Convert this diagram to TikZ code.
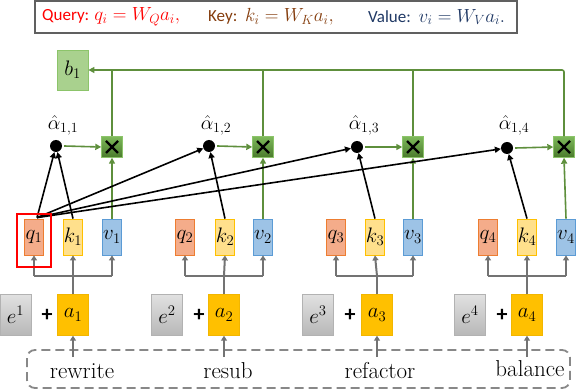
\RequirePackage{fix-cm}
\documentclass[tikz,border=0pt]{standalone}
\usepackage{fontspec}
\newfontfamily\hdrfont{Carlito}
\usetikzlibrary{arrows.meta,calc}
\definecolor{qfill}{HTML}{F4AC8A}
\definecolor{qdraw}{HTML}{ED7D31}
\definecolor{kfill}{HTML}{FFE08C}
\definecolor{kdraw}{HTML}{FFC000}
\definecolor{vfill}{HTML}{9DC3E6}
\definecolor{vdraw}{HTML}{5B9BD5}
\definecolor{afill}{HTML}{FFC000}
\definecolor{adraw}{HTML}{F2B600}
\definecolor{bfill}{HTML}{A9D18E}
\definecolor{bdraw}{HTML}{8CC46A}
\definecolor{gline}{HTML}{5E8F3C}
\definecolor{mtop}{HTML}{7DB95A}
\definecolor{mbot}{HTML}{4A7A2C}
\definecolor{grayline}{HTML}{737373}
\definecolor{keycol}{HTML}{843C0C}
\definecolor{valcol}{HTML}{1F3864}
\definecolor{hdrborder}{HTML}{606060}
\tikzset{
  mathtxt/.style={font=\fontsize{21}{24}\selectfont},
  vecbox/.style={minimum width=19pt,minimum height=36pt,inner sep=0pt,line width=0.8pt,mathtxt},
  qbox/.style={vecbox,fill=qfill,draw=qdraw},
  kbox/.style={vecbox,fill=kfill,draw=kdraw},
  vbox/.style={vecbox,fill=vfill,draw=vdraw},
  ebox/.style={minimum width=31pt,minimum height=41pt,inner sep=0pt,draw=black!30,top color=black!12,bottom color=black!28,mathtxt},
  abox/.style={minimum width=31pt,minimum height=41pt,inner sep=0pt,draw=adraw,fill=afill,mathtxt},
  mulbox/.style={minimum width=21pt,minimum height=21pt,inner sep=0pt,draw=bdraw,top color=mtop,bottom color=mbot},
  dotnode/.style={circle,fill=black,minimum size=12pt,inner sep=0pt},
  glink/.style={draw=gline,line width=1.6pt,-{Triangle[length=6pt,width=6pt]}},
  gplain/.style={draw=gline,line width=1.6pt},
  blink/.style={draw=black,line width=1.6pt,-{Triangle[length=6pt,width=6pt]}},
  graylink/.style={draw=grayline,line width=2pt,-{Triangle[length=5pt,width=6pt]}},
  grayplain/.style={draw=grayline,line width=2pt},
  plus/.style={font=\hdrfont\fontsize{22}{22}\selectfont\bfseries},
  optxt/.style={font=\fontsize{23}{26}\selectfont},
  alabel/.style={font=\fontsize{20}{22}\selectfont,inner sep=1pt},
  hdrtxt/.style={anchor=west,inner sep=0pt,font=\hdrfont\fontsize{17}{20}\selectfont}
}
\newcommand{\hdrmath}[1]{{\fontsize{19}{20}\selectfont$#1$}}
\begin{document}
\begin{tikzpicture}[x=1pt,y=-1pt]
\useasboundingbox (0,0) rectangle (576,390);
% header
\node[draw=hdrborder,line width=2.5pt,minimum width=482pt,minimum height=32pt,inner sep=0pt] (hdr) at (276,17) {};
\node[hdrtxt,red] (hq) at (42,17) {Query: \hdrmath{q_i = W_Q a_i,}};
\node[hdrtxt,keycol] (hk) at (208,17) {Key:\ \ \hdrmath{k_i = W_K a_i,}};
\node[hdrtxt,valcol] (hv) at (368,17) {Value:\ \ \hdrmath{v_i = W_V a_i.}};
% b1
\node[minimum width=31pt,minimum height=40pt,inner sep=0pt,fill=bfill,draw=bdraw,line width=0.8pt,mathtxt] (b1) at (72.5,70) {$b_1$};
% q k v
\foreach \i/\qx/\kx/\vx in {1/34/73/112, 2/185/225/263, 3/336/375/413, 4/488/527/566}{
  \node[qbox] (q\i) at (\qx,237) {$q_{\i}$};
  \node[kbox] (k\i) at (\kx,237) {$k_{\i}$};
  \node[vbox] (v\i) at (\vx,237) {$v_{\i}$};
}
% e, a
\foreach \i/\ex/\px/\ax in {1/15.5/47/73, 2/167/199/224, 3/318/350/377, 4/470/502/527}{
  \node[ebox] (e\i) at (\ex,315) {$e^{\i}$};
  \node[plus] (p\i) at (\px,315) {+};
  \node[abox] (a\i) at (\ax,315) {$a_{\i}$};
}
% multiply boxes and dots
\foreach \i/\mx/\dx/\dy in {1/112/56/146, 2/263/209/146, 3/413/357/147, 4/564/507/148}{
  \node[mulbox] (m\i) at (\mx,147) {};
  \draw[black,line width=2.4pt] ($(m\i.center)+(-6,-6)$) -- ($(m\i.center)+(6,6)$)
        ($(m\i.center)+(-6,6)$) -- ($(m\i.center)+(6,-6)$);
  \node[dotnode] (d\i) at (\dx,\dy) {};
  \node[alabel,anchor=south] (al\i) at (\dx+7,136) {$\hat\alpha_{1,\i}$};
}
% dashed op box
\draw[grayline!85,line width=1.8pt,dash pattern=on 9pt off 5pt,rounded corners=8pt] (27,350) rectangle (570,388);
\node[optxt] (o1) at (82,371) {rewrite};
\node[optxt] (o2) at (228,371) {resub};
\node[optxt] (o3) at (380,371) {refactor};
\node[optxt] (o4) at (530,369) {balance};
% arrows op -> a, a -> q k v
\foreach \i in {1,...,4}{
  \coordinate (s\i) at (a\i.south |- 0,357);
  \draw[graylink] (s\i) -- (a\i.south);
  \coordinate (j\i) at (a\i.north |- 0,276);
  \draw[grayplain] (a\i.north) -- (j\i);
  \draw[grayplain] (q\i.south |- j\i) -- (v\i.south |- j\i);
  \draw[graylink] (q\i.south |- j\i) -- (q\i.south);
  \draw[graylink] (j\i) -- (k\i.south);
  \draw[graylink] (v\i.south |- j\i) -- (v\i.south);
  % green
  \draw[glink] (v\i.north) -- (m\i.south);
  \draw[glink] ($(d\i.east)+(2,0)$) -- (m\i.west);
  % black k -> dot
  \draw[blink] (k\i.north) -- (d\i);
}
% q1 -> dots
\coordinate (qt) at ($(q1.north)+(3,-1)$);
\foreach \i in {1,...,4}{
  \draw[blink] (qt) -- (d\i);
}
% green top bus
\draw[glink,rounded corners=2pt] (m4.north) |- (b1.east);
\foreach \i in {1,2,3}{
  \draw[gplain] (m\i.north) -- (m\i.north |- b1.east);
}
% red highlight
\draw[red,line width=2.2pt] (17,214) rectangle (51,267);
\end{tikzpicture}
\end{document}
